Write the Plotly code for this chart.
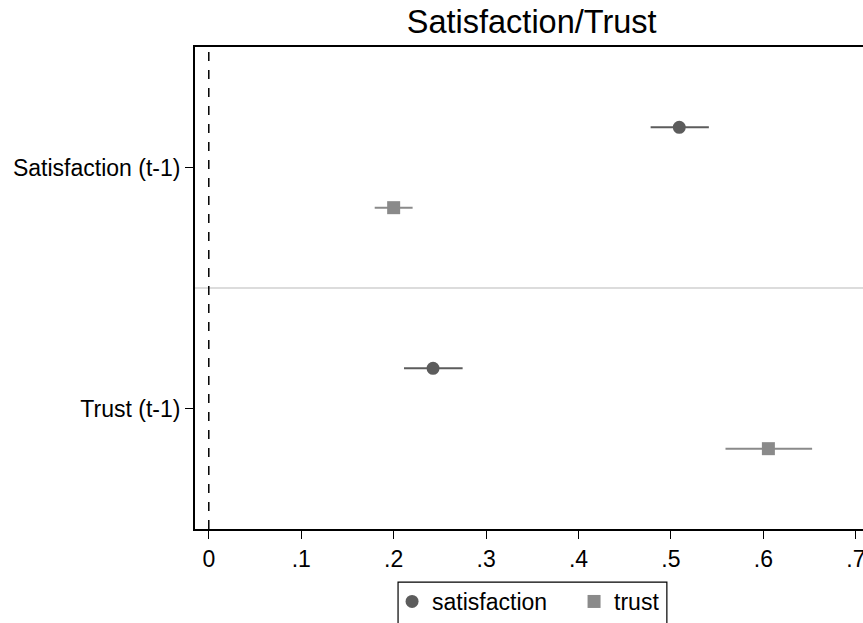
import plotly.graph_objects as go

categories = ["Satisfaction (t-1)", "Trust (t-1)"]
series = ["satisfaction", "trust"]
sat_est = [0.509, 0.2426]
sat_lo = [0.478, 0.2112]
sat_hi = [0.541, 0.2746]
trust_est = [0.200, 0.6054]
trust_lo = [0.1795, 0.559]
trust_hi = [0.2205, 0.6527]
x_ticks = [0, 0.1, 0.2, 0.3, 0.4, 0.5, 0.6, 0.7]
x_ticklabels = ["0", ".1", ".2", ".3", ".4", ".5", ".6", ".7"]

FONT = "Liberation Sans, Arial, sans-serif"
cat_pos = [1, 2]
off = 1 / 6

# The original plot region runs past the right edge of the 863px window;
# the figure is made wider and the page clips it.
W, H = 900, 623
L, T, R, B = 194.5, 47, 900, 530
PW, PH = R - L, B - T
X0_PX, X_PER_UNIT = 208.3, 925.0

def px(xp):
    return (xp - L) / PW

def py(yp):
    return (B - yp) / PH

fig = go.Figure()
fig.add_trace(go.Scatter(
    x=sat_est, y=[c - off for c in cat_pos], mode="markers", name=series[0],
    marker=dict(symbol="circle", size=13, color="#5c5c5c"),
    error_x=dict(type="data", symmetric=False,
                 array=[h - e for h, e in zip(sat_hi, sat_est)],
                 arrayminus=[e - l for e, l in zip(sat_est, sat_lo)],
                 width=0, thickness=2, color="#5c5c5c"),
))
fig.add_trace(go.Scatter(
    x=trust_est, y=[c + off for c in cat_pos], mode="markers", name=series[1],
    marker=dict(symbol="square", size=13, color="#8a8a8a"),
    error_x=dict(type="data", symmetric=False,
                 array=[h - e for h, e in zip(trust_hi, trust_est)],
                 arrayminus=[e - l for e, l in zip(trust_est, trust_lo)],
                 width=0, thickness=2, color="#8a8a8a"),
))

# separator between groups
fig.add_shape(type="line", xref="paper", yref="y", x0=0, x1=1, y0=1.5, y1=1.5,
              line=dict(color="#dcdcdc", width=2), layer="below")
# zero reference line
fig.add_shape(type="line", xref="x", yref="paper", x0=0, x1=0, y0=0, y1=1,
              line=dict(color="black", width=1.5, dash="dash"))
# legend box (clipped at bottom like the original)
fig.add_shape(type="rect", xref="paper", yref="paper",
              x0=px(397.7), x1=px(666.7), y0=py(668), y1=py(583.3),
              line=dict(color="black", width=1.2), fillcolor="rgba(0,0,0,0)")

fig.update_layout(
    width=W, height=H,
    margin=dict(l=L, r=W - R, t=T, b=H - B, pad=0),
    paper_bgcolor="white", plot_bgcolor="white",
    font=dict(family=FONT, size=23, color="black"),
    title=dict(text="Satisfaction/Trust", x=531.7 / W, xanchor="center",
               y=1 - 22 / H, yanchor="middle", yref="container",
               font=dict(family=FONT, size=32.5, color="black")),
    showlegend=True,
    legend=dict(orientation="h", x=px(391.7), xanchor="left",
                y=py(603), yanchor="middle",
                font=dict(family=FONT, size=23), itemwidth=30,
                entrywidth=137, entrywidthmode="pixels",
                bgcolor="rgba(0,0,0,0)", borderwidth=0),
    xaxis=dict(range=[(L - X0_PX) / X_PER_UNIT, (R - X0_PX) / X_PER_UNIT],
               tickvals=x_ticks, ticktext=x_ticklabels,
               showgrid=False, zeroline=False, showline=True, linecolor="black",
               linewidth=2, mirror=True, ticks="outside", ticklen=8, tickwidth=1.3,
               tickcolor="black", tickfont=dict(family=FONT, size=23)),
    yaxis=dict(range=[2.5, 0.5], tickvals=cat_pos, ticktext=categories,
               showgrid=False, zeroline=False, showline=True, linecolor="black",
               linewidth=2, mirror=False, ticks="outside", ticklen=8, tickwidth=1.3,
               tickcolor="black", tickfont=dict(family=FONT, size=23)),
)

fig.write_html(
    "out.html",
    config={"displayModeBar": False},
    post_script="document.body.style.margin='0';document.body.style.overflow='hidden';",
)
